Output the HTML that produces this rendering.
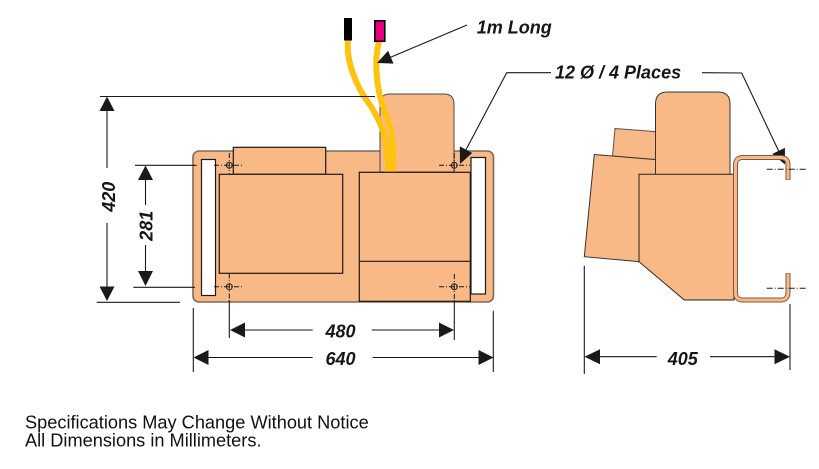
<!DOCTYPE html>
<html><head><meta charset="utf-8"><style>
html,body{margin:0;padding:0;background:#fff;}
svg{display:block;}
.dim{font-family:"Liberation Sans",sans-serif;font-weight:bold;font-style:italic;font-size:18px;fill:#161616;}
.note{font-family:"Liberation Sans",sans-serif;font-size:18.2px;fill:#111;}
</style></head><body>
<svg width="819" height="469" viewBox="0 0 819 469" xmlns="http://www.w3.org/2000/svg">
<!-- FRONT VIEW -->
<rect x="193" y="151" width="300.5" height="151" rx="6" fill="#f8b987" stroke="#7d6b5d" stroke-width="1.6"/>
<!-- tall box -->
<path d="M380,172 L380,104 Q380,94 390,94 L444,94 Q454,94 454,104 L454,172 Z" fill="#f8b987" stroke="#4a4a4a" stroke-width="1"/>
<!-- cables -->
<path d="M348,40 C346,60 355,85 370,105 C383,125 388,140 388,172" fill="none" stroke="#ffc20e" stroke-width="6"/>
<path d="M379,42 C374,60 376,90 385,112 C393,130 394,145 393,172" fill="none" stroke="#ffc20e" stroke-width="6"/>
<rect x="344" y="18" width="8" height="22.5" fill="#000"/>
<rect x="374.8" y="20.8" width="10" height="20.5" fill="#e6007e" stroke="#000" stroke-width="1.6"/>
<!-- boxes -->
<rect x="233.3" y="147.3" width="92.4" height="27" fill="#f8b987" stroke="#1a1a1a" stroke-width="1.2"/>
<rect x="219.3" y="174.3" width="123.4" height="99" fill="#f8b987" stroke="#1a1a1a" stroke-width="1.2"/>
<rect x="359.3" y="172.3" width="111" height="129" fill="#f8b987" stroke="#1a1a1a" stroke-width="1.2"/>
<line x1="359.3" y1="261.3" x2="470.3" y2="261.3" stroke="#1a1a1a" stroke-width="1.2"/>
<!-- slots -->
<rect x="201.5" y="159.5" width="14" height="136" fill="#fff" stroke="#1a1a1a" stroke-width="1.2"/>
<rect x="471" y="157.5" width="14.5" height="136.5" fill="#fff" stroke="#1a1a1a" stroke-width="1.2"/>
<!-- holes -->
<g fill="none" stroke="#1a1a1a" stroke-width="1">
<circle cx="229.3" cy="165.3" r="3"/><circle cx="229.3" cy="286.7" r="3"/>
<circle cx="454.3" cy="165.3" r="3"/><circle cx="454.3" cy="286.7" r="3"/>
<g stroke-dasharray="5 2 1 2">
<line x1="214" y1="165.3" x2="243" y2="165.3"/><line x1="229.3" y1="153" x2="229.3" y2="174"/>
<line x1="214" y1="286.7" x2="243" y2="286.7"/><line x1="229.3" y1="273.5" x2="229.3" y2="300"/>
<line x1="439" y1="165.3" x2="470" y2="165.3"/><line x1="454.3" y1="153" x2="454.3" y2="172"/>
<line x1="439" y1="286.7" x2="470" y2="286.7"/><line x1="454.3" y1="274" x2="454.3" y2="300"/>
</g>
</g>
<!-- dimension lines -->
<g stroke="#1a1a1a" stroke-width="1.1" fill="none">
<line x1="100" y1="96.5" x2="375" y2="96.5"/>
<line x1="96.7" y1="302.3" x2="180" y2="302.3"/>
<line x1="107" y1="110" x2="107" y2="168"/>
<line x1="107" y1="223" x2="107" y2="287"/>
<line x1="135" y1="165.3" x2="196.7" y2="165.3"/>
<line x1="133.3" y1="287.3" x2="195" y2="287.3"/>
<line x1="145.5" y1="179" x2="145.5" y2="205"/>
<line x1="145.5" y1="245" x2="145.5" y2="272"/>
<line x1="229.3" y1="300" x2="229.3" y2="338"/>
<line x1="454.3" y1="300" x2="454.3" y2="340"/>
<line x1="245" y1="330" x2="312.7" y2="330"/>
<line x1="371.7" y1="330" x2="439" y2="330"/>
<line x1="193.3" y1="308" x2="193.3" y2="372"/>
<line x1="493.3" y1="310.7" x2="493.3" y2="372"/>
<line x1="208" y1="357.5" x2="312.7" y2="357.5"/>
<line x1="372.7" y1="357.5" x2="479" y2="357.5"/>
<!-- leaders -->
<line x1="467" y1="25" x2="390" y2="57.5"/>
<polyline points="551,72.7 506.7,72.7 466,149.7"/>
<polyline points="702,72.7 741.7,73 778.6,150.9"/>
<!-- side dims -->
<line x1="584.3" y1="265.7" x2="584.3" y2="374"/>
<line x1="790" y1="304" x2="790" y2="370"/>
<line x1="600" y1="356.7" x2="656.7" y2="356.7"/>
<line x1="710" y1="356.7" x2="775" y2="356.7"/>
</g>
<g fill="#1a1a1a">
<polygon points="107,96.5 99.5,111 114.5,111"/>
<polygon points="107,301 99.5,286.5 114.5,286.5"/>
<polygon points="145.5,165.5 138,180 153,180"/>
<polygon points="145.5,286 138,271 153,271"/>
<polygon points="230,330 245,322.5 245,337.5"/>
<polygon points="454,330 439,322.5 439,337.5"/>
<polygon points="193.5,357.5 208.5,350 208.5,365"/>
<polygon points="493.5,357.5 478.5,350 478.5,365"/>
<polygon points="377,63 393.5,63.6 388.1,50.8"/>
<polygon points="460,164 472.2,153 459.8,146.4"/>
<polygon points="785,164.5 784.9,147.9 772.3,153.9"/>
<polygon points="584.5,356.7 600,349.2 600,364.2"/>
<polygon points="790,356.7 774.5,349.2 774.5,364.2"/>
</g>
<!-- SIDE VIEW -->
<polygon points="615,128.5 660,132 660,160 612.5,156" fill="#f8b987" stroke="#555" stroke-width="1"/>
<polygon points="594.3,154.5 660,160 660,262 639,261.7 584.3,256.7" fill="#f8b987" stroke="#333" stroke-width="1"/>
<path d="M655.5,176 L655.5,104 Q655.5,92 667.5,92 L718,92 Q730,92 730,104 L730,176 Z" fill="#f8b987" stroke="#333" stroke-width="1"/>
<polygon points="639,174.3 734,174.3 734,300 684.3,300 639,261.7" fill="#f8b987" stroke="#222" stroke-width="1"/>
<path d="M788,180 L788,165 Q788,157.5 780.5,157.5 L743,157.5 Q735.5,157.5 735.5,165 L735.5,292.5 Q735.5,300 743,300 L780.5,300 Q788,300 788,292.5 L788,273" fill="none" stroke="#7a5a40" stroke-width="5"/>
<path d="M788,179.5 L788,165 Q788,157.5 780.5,157.5 L743,157.5 Q735.5,157.5 735.5,165 L735.5,292.5 Q735.5,300 743,300 L780.5,300 Q788,300 788,292.5 L788,273.5" fill="none" stroke="#f8b987" stroke-width="3"/>
<g stroke="#1a1a1a" stroke-width="1" stroke-dasharray="6 2 1 2">
<line x1="766.7" y1="169.3" x2="806" y2="169.3"/>
<line x1="766.7" y1="288.3" x2="806" y2="288.3"/>
</g>
<!-- labels -->
<text class="dim" x="476.7" y="33.3">1m Long</text>
<text class="dim" x="555" y="78.3">12 Ø / 4 Places</text>
<text class="dim" transform="translate(115,196.7) rotate(-90)" text-anchor="middle">420</text>
<text class="dim" transform="translate(152.7,225.8) rotate(-90)" text-anchor="middle">281</text>
<text class="dim" x="340.5" y="337.3" text-anchor="middle">480</text>
<text class="dim" x="340.5" y="365" text-anchor="middle">640</text>
<text class="dim" x="682.8" y="365" text-anchor="middle">405</text>
<text class="note" x="25" y="428.3">Specifications May Change Without Notice</text>
<text class="note" x="25" y="446.7">All Dimensions in Millimeters.</text>
</svg>
</body></html>
